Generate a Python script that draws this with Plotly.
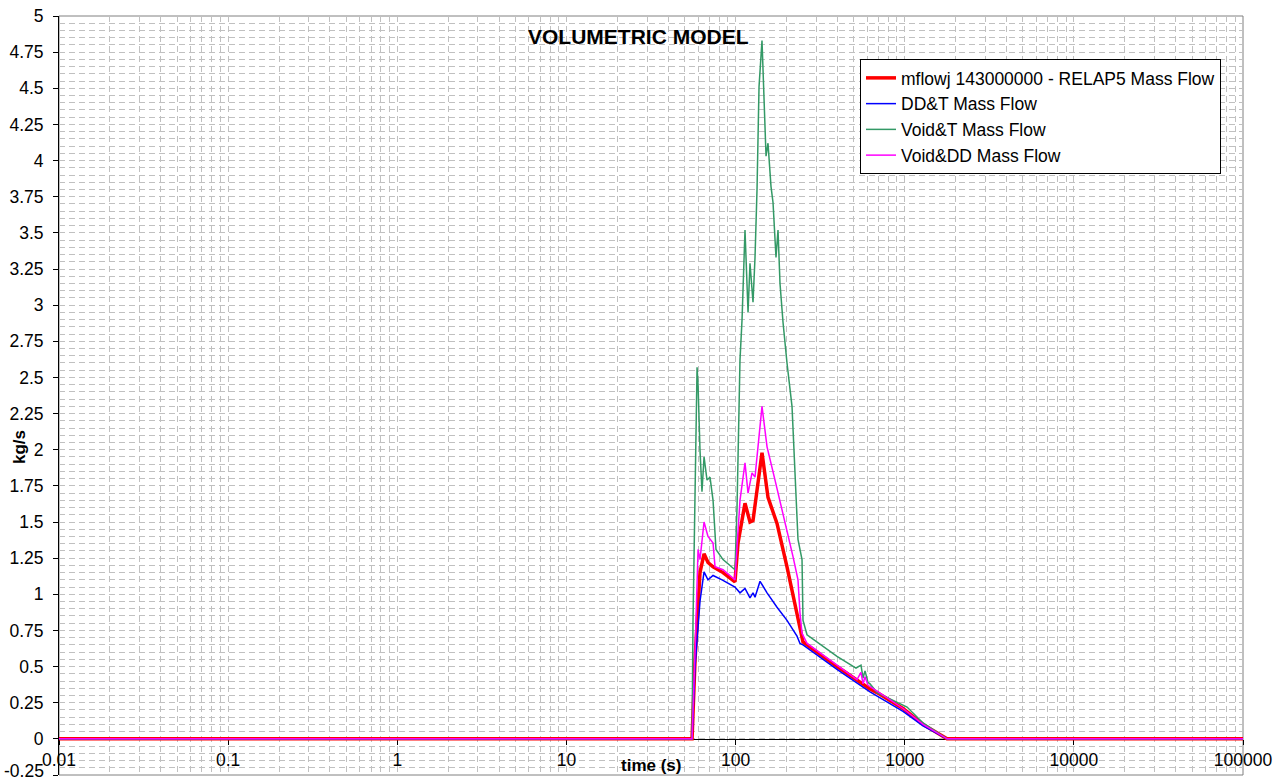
import plotly.graph_objects as go

# RELAP5 reference (mflowj 143000000)
relap_t = [0.01, 55.3, 57.6, 61.6, 65.1, 68.7, 73.6, 84.3, 99.2, 103.4, 113.7, 121.7, 126.8,
           143.3, 155.5, 175.8, 201.4, 224.6, 240.4, 250.4, 397.8, 623.5, 686, 977, 1283, 1779, 100000]
relap_v = [0, 0, 0.55, 1.15, 1.28, 1.22, 1.19, 1.15, 1.086, 1.355, 1.63, 1.50, 1.51,
           1.98, 1.67, 1.49, 1.19, 0.93, 0.76, 0.67, 0.50, 0.345, 0.32, 0.21, 0.10, 0, 0]

# DD&T
ddt_t = [0.01, 55.3, 57.6, 61.6, 65.1, 68.7, 73.6, 83.2, 99.2, 106.2, 113.7, 121.7, 126.8, 130.3,
         139.5, 153.5, 175.8, 201.4, 230.8, 240.4, 250.4, 397.8, 623.5, 977, 1283, 1779, 100000]
ddt_v = [0, 0, 0.5, 0.95, 1.155, 1.10, 1.13, 1.10, 1.05, 1.01, 1.04, 0.975, 1.01, 0.98,
         1.09, 1.01, 0.91, 0.82, 0.71, 0.66, 0.65, 0.48, 0.325, 0.19, 0.09, 0, 0]

# Void&T
vt_t = [0.01, 55.3, 56.0, 57.6, 59.2, 60.0, 61.6, 63.3, 65.1, 67.8, 70.6, 73.6, 76.6, 84.3, 99.2,
        102.0, 106.2, 109.2, 110.7, 113.7, 118.5, 121.7, 126.8, 130.3, 133.9, 137.6, 143.3, 147.3,
        151.4, 155.5, 162.0, 166.5, 173.4, 178.2, 183.1, 190.8, 201.4, 215.6, 224.6, 233.9, 247.1,
        250.4, 264.5, 397.8, 515.3, 551.6, 566.9, 582.5, 606.8, 623.5, 686, 900.6, 1032, 1283, 1779, 100000]
vt_v = [0, 0, 0.8, 1.8, 2.57, 2.45, 2.0, 1.71, 1.95, 1.79, 1.81, 1.65, 1.31, 1.24, 1.17,
        1.60, 2.62, 2.90, 3.10, 3.52, 2.95, 3.29, 3.02, 3.33, 3.80, 4.51, 4.83, 4.44,
        4.03, 4.12, 3.82, 3.71, 3.33, 3.52, 3.15, 2.88, 2.60, 2.30, 1.84, 1.38, 1.24,
        0.82, 0.72, 0.57, 0.49, 0.51, 0.42, 0.47, 0.39, 0.38, 0.32, 0.25, 0.22, 0.11, 0, 0]

# Void&DD
vdd_t = [0.01, 55.3, 57.6, 60.0, 61.6, 63.3, 65.1, 68.7, 73.6, 75.6, 84.3, 99.2, 106.2, 113.7,
         118.5, 125.1, 130.3, 143.3, 153.5, 171.1, 190.8, 218.6, 233.9, 240.4, 247.1, 264.5,
         397.8, 522.4, 551.6, 566.9, 582.5, 606.8, 686, 977, 1283, 1779, 100000]
vdd_v = [0, 0, 0.6, 1.31, 1.24, 1.35, 1.50, 1.40, 1.355, 1.19, 1.17, 1.10, 1.65, 1.91,
         1.70, 1.84, 1.81, 2.30, 2.02, 1.79, 1.56, 1.26, 1.10, 0.87, 0.73, 0.66,
         0.51, 0.41, 0.46, 0.38, 0.43, 0.37, 0.33, 0.21, 0.10, 0, 0]

x_ticks = [0.01, 0.1, 1, 10, 100, 1000, 10000, 100000]
x_labels = ["0.01", "0.1", "1", "10", "100", "1000", "10000", "100000"]
# -0.25 gets its tick but its label is placed separately so it stays inside the page
y_ticks = [-0.25 + 0.25 * i for i in range(22)]
y_labels = ["", "0", "0.25", "0.5", "0.75", "1", "1.25", "1.5", "1.75", "2", "2.25",
            "2.5", "2.75", "3", "3.25", "3.5", "3.75", "4", "4.25", "4.5", "4.75", "5"]

# minor log grid 2..9 in every decade
x_minor = [m * d for d in x_ticks[:-1] for m in range(2, 10)]

FONT = "Arial, Liberation Sans, sans-serif"
GRID = "#c0c0c0"

fig = go.Figure()
fig.add_trace(go.Scatter(x=relap_t, y=relap_v, mode="lines", name="mflowj 143000000 - RELAP5 Mass Flow",
                         line=dict(color="#ff0000", width=3.5)))
fig.add_trace(go.Scatter(x=ddt_t, y=ddt_v, mode="lines", name="DD&T Mass Flow",
                         line=dict(color="#0000ff", width=1.5)))
fig.add_trace(go.Scatter(x=vt_t, y=vt_v, mode="lines", name="Void&T Mass Flow",
                         line=dict(color="#339966", width=1.5)))
fig.add_trace(go.Scatter(x=vdd_t, y=vdd_v, mode="lines", name="Void&DD Mass Flow",
                         line=dict(color="#ff00ff", width=1.5)))

# plot area 59..1243 x 16..775 in the window (body margin removed below)
fig.update_layout(
    width=1283, height=782,
    margin=dict(l=59, r=40, t=16, b=7),
    paper_bgcolor="white", plot_bgcolor="white",
    font=dict(family=FONT, size=17.5, color="black"),
    showlegend=True,
    legend=dict(x=(860 - 59) / 1184, y=(775 - 59) / 759, xanchor="left", yanchor="top",
                bgcolor="white", bordercolor="black", borderwidth=1,
                font=dict(size=17.5), itemwidth=30),
    xaxis=dict(type="log", range=[-2, 5], anchor="free", position=0.25 / 5.25,
               automargin=False,
               tickmode="array", tickvals=x_ticks, ticktext=x_labels,
               showline=True, linecolor="black", linewidth=1,
               ticks="outside", ticklen=5, tickcolor="black",
               showgrid=True, gridcolor=GRID, griddash="6px,4px", gridwidth=1,
               minor=dict(tickvals=x_minor, showgrid=True, gridcolor=GRID,
                          griddash="6px,4px", ticks=""),
               zeroline=False, layer="below traces", ticklabeloverflow="allow"),
    yaxis=dict(range=[-0.25, 5], domain=[0, 1], automargin=False,
               tickmode="array", tickvals=y_ticks, ticktext=y_labels,
               showline=True, linecolor="black", linewidth=1,
               ticks="outside", ticklen=5, tickcolor="black", ticklabelstandoff=6,
               showgrid=True, gridcolor=GRID, griddash="6px,4px", gridwidth=1,
               minor=dict(dtick=0.05, tick0=0, showgrid=True, gridcolor=GRID,
                          griddash="6px,4px", ticks=""),
               zeroline=False, ticklabeloverflow="allow"),
    shapes=[dict(type="rect", xref="paper", yref="paper", x0=0, y0=0, x1=1, y1=1,
                 line=dict(color="#808080", width=1), layer="below")],
    annotations=[
        dict(text="<b>VOLUMETRIC MODEL</b>", xref="paper", yref="paper", x=(638 - 59) / 1184,
             y=(775 - 36) / 759, xanchor="center", yanchor="middle", showarrow=False,
             font=dict(size=21)),
        dict(text="<b>time (s)</b>", xref="paper", yref="paper", x=0.5,
             y=(775 - 765) / 759, xanchor="center", yanchor="middle", showarrow=False,
             font=dict(size=17)),
        dict(text="<b>kg/s</b>", xref="paper", yref="paper", x=(19 - 59) / 1184,
             y=(775 - 447) / 759, xanchor="center", yanchor="middle", showarrow=False,
             textangle=-90, font=dict(size=17)),
        dict(text="-0.25", xref="paper", yref="y", x=0, y=-0.25, xanchor="right",
             yanchor="bottom", xshift=-14, yshift=-7, showarrow=False, borderpad=0,
             font=dict(size=17.5)),
    ],
)

fig.write_html("out.html", config={"displayModeBar": False},
               post_script="document.body.style.margin='0';")
